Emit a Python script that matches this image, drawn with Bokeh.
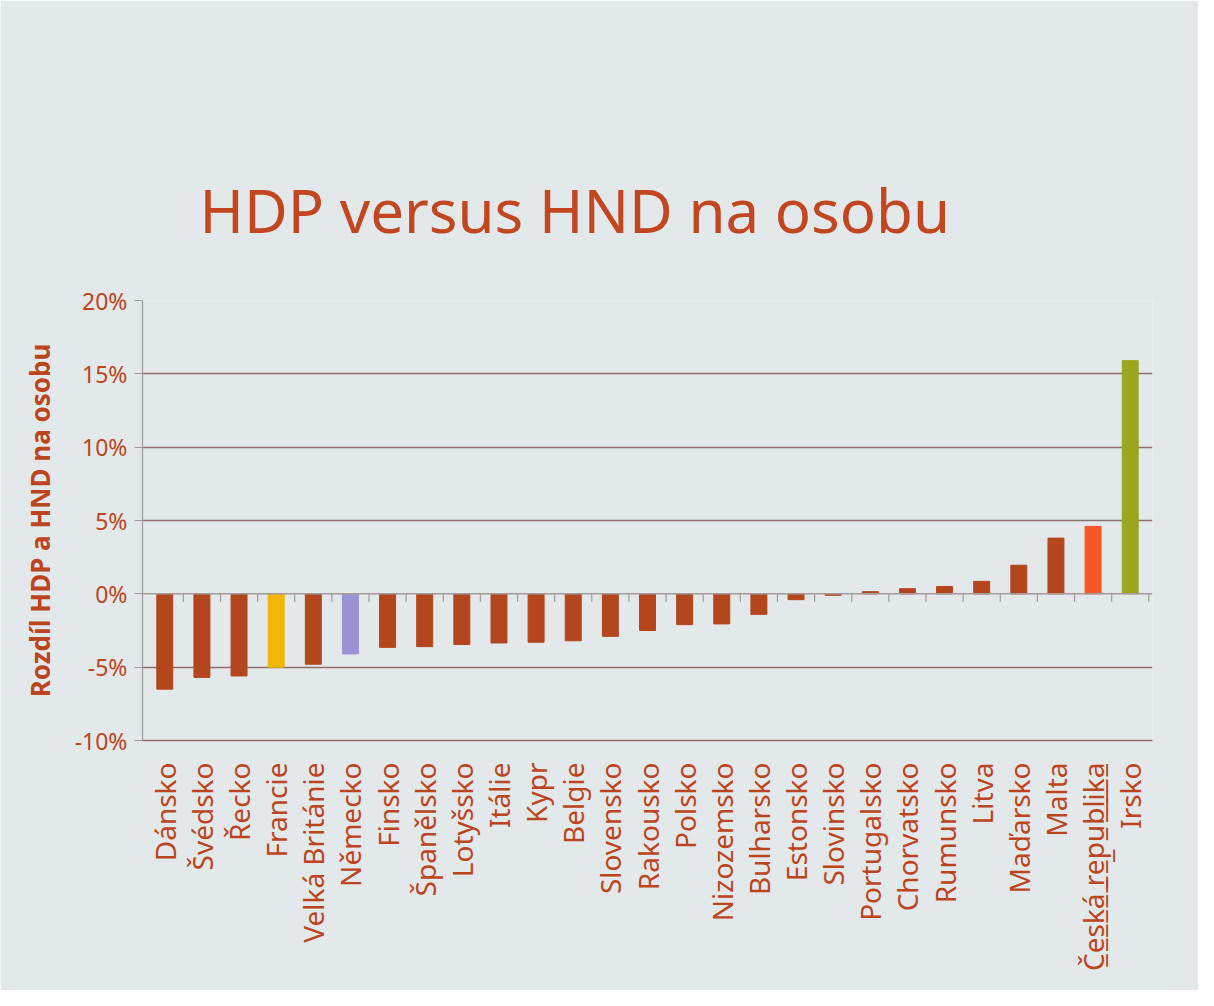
from bokeh.plotting import figure
from bokeh.models import FixedTicker, Span, ColumnDataSource, Range1d
from bokeh.embed import file_html
from bokeh.resources import INLINE
from math import pi

# ---- data ----
countries = ["Dánsko", "Švédsko", "Řecko", "Francie", "Velká Británie", "Německo",
             "Finsko", "Španělsko", "Lotyšsko", "Itálie", "Kypr", "Belgie",
             "Slovensko", "Rakousko", "Polsko", "Nizozemsko", "Bulharsko", "Estonsko",
             "Slovinsko", "Portugalsko", "Chorvatsko", "Rumunsko", "Litva", "Maďarsko",
             "Malta", "Česká republika", "Irsko"]
diff_pct = [-6.5, -5.7, -5.6, -5.0, -4.8, -4.1,
            -3.65, -3.6, -3.45, -3.35, -3.3, -3.2,
            -2.9, -2.5, -2.1, -2.05, -1.4, -0.4,
            -0.1, 0.15, 0.35, 0.5, 0.85, 1.95,
            3.8, 4.6, 15.9]
highlight = {"Francie": "#F2B705", "Německo": "#9C93D6",
             "Česká republika": "#F4562A", "Irsko": "#9AA61E"}
base_color = "#B4461E"
y_ticks = [-10, -5, 0, 5, 10, 15, 20]
y_tick_labels = ["-10%", "-5%", "0%", "5%", "10%", "15%", "20%"]
underlined = "Česká republika"

title_text = "HDP versus HND na osobu"
y_label = "Rozdíl HDP a HND na osobu"

TEXT = "#BC4520"
GRID = "#8E6F6B"
AXIS = "#A39A9A"
BG = "#E3E9EB"
FONT = "Noto Sans"

idx = list(range(len(countries)))
colors = [highlight.get(c, base_color) for c in countries]
src = ColumnDataSource(dict(x=idx, top=diff_pct, color=colors))

p = figure(width=1198, height=990,
           x_range=Range1d(-0.6, len(countries) - 0.4), y_range=Range1d(y_ticks[0], y_ticks[-1]),
           output_backend="svg", toolbar_location=None,
           min_border_left=142, min_border_right=46, min_border_top=300, min_border_bottom=250,
           background_fill_color=BG, border_fill_color=BG, outline_line_color=None)

# title
p.title.text = title_text
p.title.text_font = FONT
p.title.text_font_size = "60px"
p.title.text_font_style = "normal"
p.title.text_color = "#C2461F"
p.title.align = "left"
p.title.offset = 57
p.title.standoff = 100

# bars
p.vbar(x="x", top="top", bottom=0, width=0.43, color="color", source=src)

# zero category axis line and its boundary ticks
p.add_layout(Span(location=0, dimension="width", line_color=AXIS, line_width=1.5))
bounds = [i + 0.5 for i in idx]
p.segment(x0=bounds, y0=[0] * len(bounds), x1=bounds, y1=[-0.55] * len(bounds),
          line_color=AXIS, line_width=1.2)

# grid
p.xgrid.grid_line_color = None
p.ygrid.ticker = FixedTicker(ticks=[t for t in y_ticks if t != 0])
p.ygrid.grid_line_color = GRID
p.ygrid.grid_line_width = 1.3

# y axis
p.yaxis.ticker = FixedTicker(ticks=y_ticks)
p.yaxis.major_label_overrides = {t: l for t, l in zip(y_ticks, y_tick_labels)}
p.yaxis.axis_line_color = AXIS
p.yaxis.axis_line_width = 1.3
p.yaxis.major_tick_line_color = AXIS
p.yaxis.major_tick_out = 8
p.yaxis.major_tick_in = 0
p.yaxis.minor_tick_line_color = None
p.yaxis.major_label_text_font = FONT
p.yaxis.major_label_text_font_size = "23px"
p.yaxis.major_label_text_color = TEXT
p.yaxis.major_label_standoff = 7
p.yaxis.axis_label = y_label
p.yaxis.axis_label_text_font = FONT
p.yaxis.axis_label_text_font_size = "26px"
p.yaxis.axis_label_text_font_style = "bold"
p.yaxis.axis_label_text_color = TEXT
p.yaxis.axis_label_standoff = 14

# x axis (labels below the plot)
def underline(s):
    return "".join(ch + "\u0332" for ch in s)

p.xaxis.ticker = FixedTicker(ticks=idx)
p.xaxis.major_label_overrides = {i: (underline(c) if c == underlined else c)
                                 for i, c in zip(idx, countries)}
p.xaxis.major_label_orientation = pi / 2
p.xaxis.major_label_text_font = FONT
p.xaxis.major_label_text_font_size = "28px"
p.xaxis.major_label_text_color = TEXT
p.xaxis.major_label_standoff = 16
p.xaxis.axis_line_color = GRID
p.xaxis.axis_line_width = 1.3
p.xaxis.major_tick_line_color = None
p.xaxis.minor_tick_line_color = None

open("out.html", "w").write(file_html(p, INLINE))
